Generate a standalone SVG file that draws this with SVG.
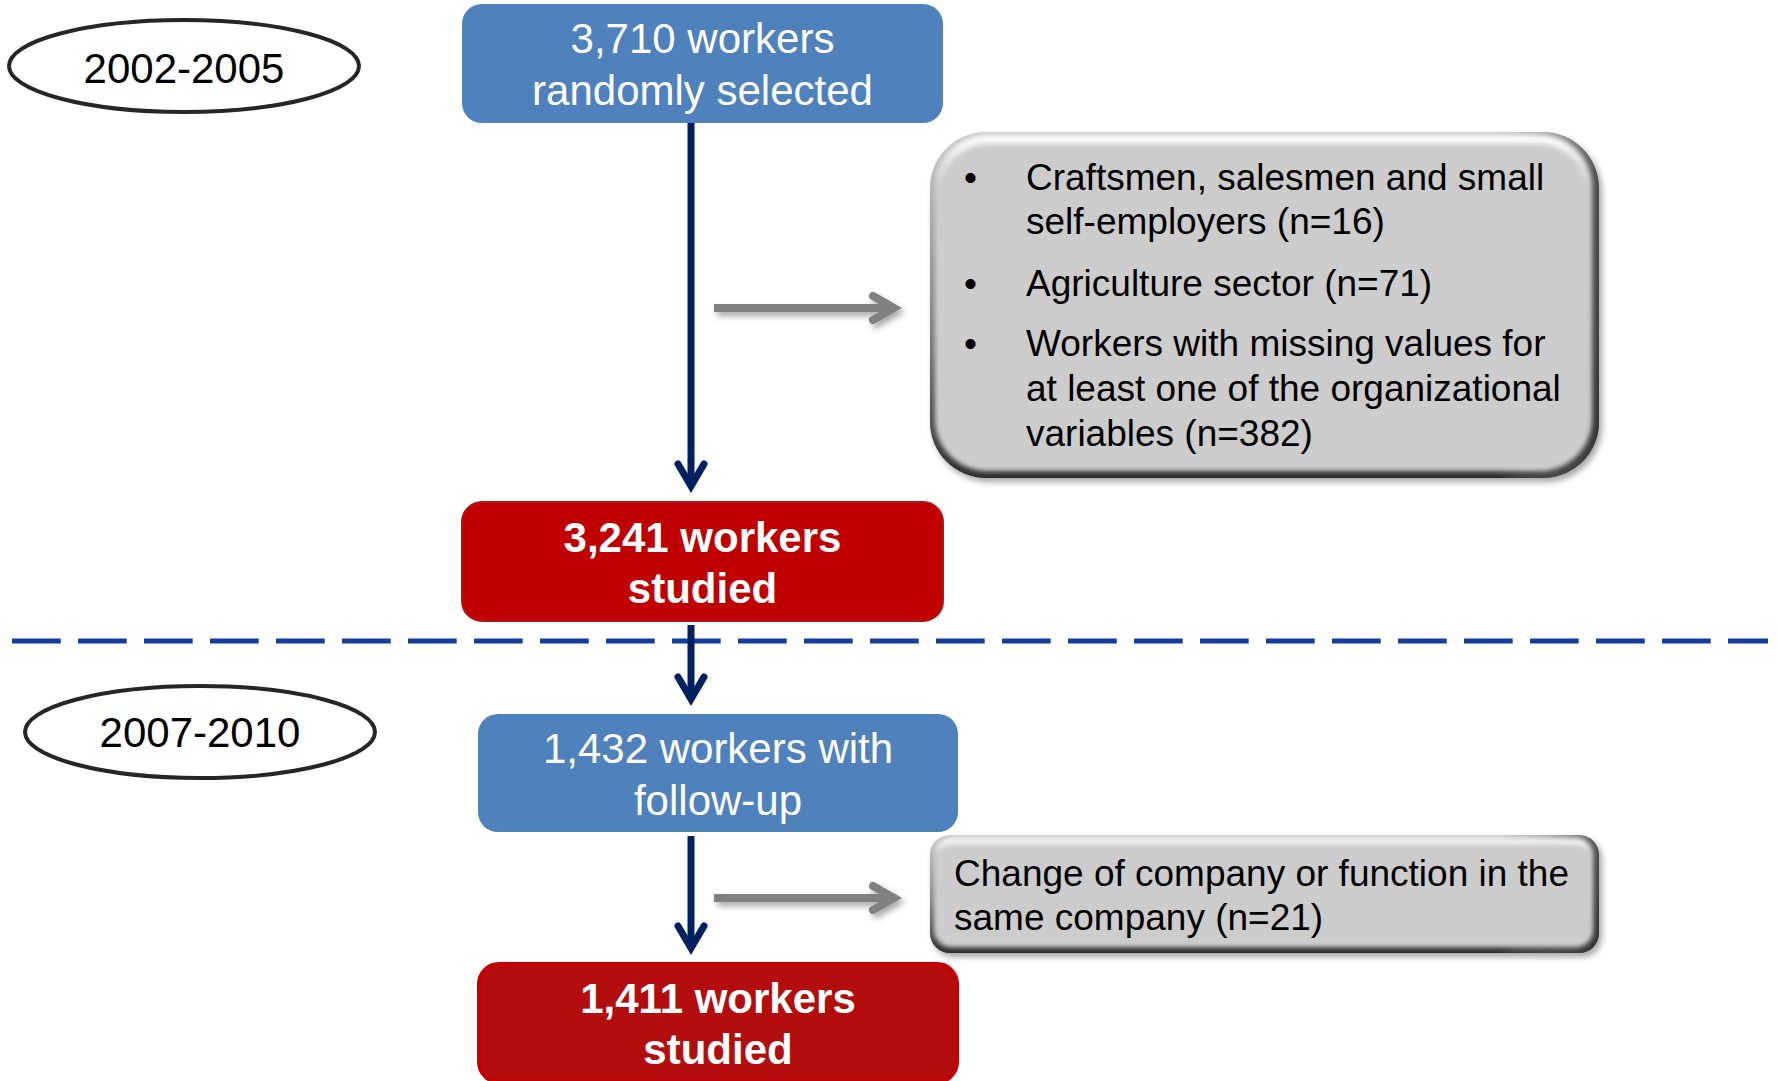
<svg xmlns="http://www.w3.org/2000/svg" width="1778" height="1081" viewBox="0 0 1778 1081">
<style>
  .t { font-family: "Liberation Sans", Arial, sans-serif; }
  .main { font-size: 42px; fill: #ffffff; text-anchor: middle; }
  .bold { font-weight: bold; }
  .era { font-size: 42px; fill: #000000; text-anchor: middle; }
  .gtx { font-size: 37px; fill: #000000; }
  .blue { fill: #4f81bd; }
  .red1 { fill: #c00000; stroke: #b31515; stroke-width: 2; }
  .red2 { fill: #b30d0d; stroke: #c40000; stroke-width: 4; }
  .ell { fill: #ffffff; stroke: #262626; stroke-width: 4; }
  .navy { stroke: #002060; stroke-width: 7; fill: none; marker-end: url(#navyHead); }
  .grey { stroke: #808080; stroke-width: 8; fill: none; marker-end: url(#greyHead); }
</style>
<defs>
  <marker id="navyHead" markerUnits="userSpaceOnUse" orient="auto" refX="0" refY="0" markerWidth="60" markerHeight="60" viewBox="-30 -30 60 60" overflow="visible">
    <path d="M-22,-13 L0,0 L-22,13" fill="none" stroke="#002060" stroke-width="7" stroke-linecap="round" stroke-linejoin="miter"/>
  </marker>
  <marker id="greyHead" markerUnits="userSpaceOnUse" orient="auto" refX="0" refY="0" markerWidth="60" markerHeight="60" viewBox="-30 -30 60 60" overflow="visible">
    <path d="M-21,-12 L0,0 L-21,12" fill="none" stroke="#808080" stroke-width="8" stroke-linecap="round" stroke-linejoin="miter"/>
  </marker>
  <filter id="shadow" x="-10%" y="-10%" width="125%" height="130%">
    <feDropShadow dx="3" dy="4" stdDeviation="3" flood-color="#000" flood-opacity="0.35"/>
  </filter>
  <filter id="soft" x="-5%" y="-5%" width="110%" height="110%">
    <feGaussianBlur stdDeviation="2.5"/>
  </filter>
  <linearGradient id="edge" x1="0" y1="0" x2="0" y2="1">
    <stop offset="0" stop-color="#c8c8c8"/>
    <stop offset="0.5" stop-color="#8a8a8a"/>
    <stop offset="1" stop-color="#2e2e2e"/>
  </linearGradient>
  <linearGradient id="edgeH" x1="0" y1="0" x2="1" y2="0">
    <stop offset="0" stop-color="#a0a0a0" stop-opacity="0"/>
    <stop offset="0.85" stop-color="#a0a0a0" stop-opacity="0"/>
    <stop offset="1" stop-color="#303030" stop-opacity="0.8"/>
  </linearGradient>
  <linearGradient id="hilite" x1="0" y1="0" x2="0" y2="1">
    <stop offset="0" stop-color="#ffffff"/>
    <stop offset="0.15" stop-color="#cccccc"/>
    <stop offset="1" stop-color="#cccccc"/>
  </linearGradient>
</defs>

<rect width="1778" height="1081" fill="#ffffff"/>

<!-- divider -->
<g id="divider">
  <line x1="12" y1="641" x2="1768" y2="641" stroke="#133d9c" stroke-width="5" stroke-dasharray="48.7 17.3"/>
</g>

<!-- era labels -->
<g id="era1">
  <ellipse class="ell" cx="184" cy="66" rx="175" ry="46"/>
  <text class="t era" x="184" y="83">2002-2005</text>
</g>
<g id="era2">
  <ellipse class="ell" cx="200" cy="732" rx="175" ry="46"/>
  <text class="t era" x="200" y="747">2007-2010</text>
</g>

<!-- connectors -->
<g id="connectors">
  <line class="navy" x1="691" y1="123" x2="691" y2="486"/>
  <line class="navy" x1="691" y1="625" x2="691" y2="699"/>
  <line class="navy" x1="691" y1="836" x2="691" y2="948"/>
  <g filter="url(#shadow)">
    <line class="grey" x1="714" y1="308" x2="894" y2="308"/>
    <line class="grey" x1="714" y1="898" x2="894" y2="898"/>
  </g>
</g>

<!-- main nodes -->
<g id="n3710">
  <rect class="blue" x="462" y="4" width="481" height="119" rx="20"/>
  <text class="t main" x="702.5" y="53">3,710 workers</text>
  <text class="t main" x="702.5" y="105">randomly selected</text>
</g>
<g id="n3241">
  <rect class="red1" x="462" y="502" width="481" height="119" rx="20"/>
  <text class="t main bold" x="702.5" y="552">3,241 workers</text>
  <text class="t main bold" x="702.5" y="603">studied</text>
</g>
<g id="n1432">
  <rect class="blue" x="478" y="714" width="480" height="118" rx="20"/>
  <text class="t main" x="718" y="763">1,432 workers with</text>
  <text class="t main" x="718" y="815">follow-up</text>
</g>
<g id="n1411">
  <rect class="red2" x="479" y="964" width="478" height="118" rx="20"/>
  <text class="t main bold" x="718" y="1013">1,411 workers</text>
  <text class="t main bold" x="718" y="1064">studied</text>
</g>

<!-- exclusion boxes -->
<g id="excl1">
  <g filter="url(#shadow)">
    <rect x="930" y="132" width="669" height="346" rx="56" fill="url(#edge)"/>
  </g>
  <rect x="930" y="132" width="669" height="346" rx="56" fill="url(#edgeH)"/>
  <rect x="935" y="135" width="657" height="336" rx="52" fill="url(#hilite)" filter="url(#soft)"/>
  <rect x="941" y="144" width="645" height="322" rx="48" fill="#cccccc" filter="url(#soft)"/>
  <text class="t gtx" x="964" y="190">•</text>
  <text class="t gtx" x="1026" y="190">Craftsmen, salesmen and small</text>
  <text class="t gtx" x="1026" y="234">self-employers (n=16)</text>
  <text class="t gtx" x="964" y="296">•</text>
  <text class="t gtx" x="1026" y="296">Agriculture sector (n=71)</text>
  <text class="t gtx" x="964" y="356">•</text>
  <text class="t gtx" x="1026" y="356">Workers with missing values for</text>
  <text class="t gtx" x="1026" y="401">at least one of the organizational</text>
  <text class="t gtx" x="1026" y="446">variables (n=382)</text>
</g>
<g id="excl2">
  <g filter="url(#shadow)">
    <rect x="930" y="835" width="669" height="118" rx="20" fill="url(#edge)"/>
  </g>
  <rect x="930" y="835" width="669" height="118" rx="20" fill="url(#edgeH)"/>
  <rect x="934" y="838" width="659" height="109" rx="17" fill="url(#hilite)" filter="url(#soft)"/>
  <rect x="939" y="845" width="650" height="98" rx="14" fill="#cccccc" filter="url(#soft)"/>
  <text class="t gtx" x="954" y="886">Change of company or function in the</text>
  <text class="t gtx" x="954" y="930">same company (n=21)</text>
</g>
</svg>
